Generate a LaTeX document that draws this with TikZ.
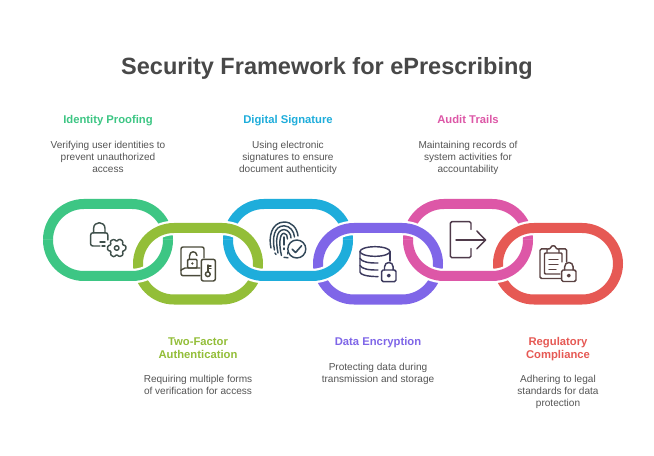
\documentclass[tikz,border=0pt]{standalone}
\usepackage{fontspec}
\setmainfont{Liberation Sans}
\definecolor{cgreen}{HTML}{3DC684}
\definecolor{clime}{HTML}{93BE38}
\definecolor{cblue}{HTML}{1EADDB}
\definecolor{cpurple}{HTML}{7F66E8}
\definecolor{cpink}{HTML}{DD57A7}
\definecolor{cred}{HTML}{E65954}
\definecolor{ctitle}{HTML}{484848}
\definecolor{cbody}{HTML}{555555}
\definecolor{igreen}{HTML}{3F504B}
\definecolor{ilime}{HTML}{4A4A3A}
\definecolor{iblue}{HTML}{33495A}
\definecolor{ipurple}{HTML}{3C3A5E}
\definecolor{ipink}{HTML}{4F3A4A}
\definecolor{ired}{HTML}{5A4242}
\tikzset{
  ringline/.style={line width=10bp,rounded corners=35.9bp},
  ringhalo/.style={line width=14.5bp,draw=white,rounded corners=35.9bp},
  headtext/.style={font=\bfseries\fontsize{11.3}{13.4}\selectfont,align=center,inner sep=0pt},
  bodytext/.style={font=\fontsize{10.1}{12}\selectfont,align=center,inner sep=0pt,text=cbody},
  icon/.style={line width=1.45bp,line cap=round,line join=round},
}
% full ring: x0 y0 x1 y1 colour
\newcommand{\fullring}[5]{%
  \draw[ringhalo] (#1,#2) rectangle (#3,#4);
  \draw[ringline,draw=#5] (#1,#2) rectangle (#3,#4);}
\newcommand{\lowerpart}[5]{%
  \draw[ringhalo] (#1,#2) -- (#1,#4) -- (#3,#4) -- (#3,#2);
  \draw[ringline,draw=#5] (#1,#2) -- (#1,#4) -- (#3,#4) -- (#3,#2);}
\begin{document}
\begin{tikzpicture}[x=1bp,y=-1bp]
\useasboundingbox (0,0) rectangle (654,456);
\fill[white] (0,0) rectangle (654,456);

\node[font=\bfseries\fontsize{23.6}{28}\selectfont,text=ctitle,inner sep=0pt] (title) at (327,69) {\strut Security Framework for ePrescribing};

% rings: upper first, lower over them, then lower parts of upper rings on top
\fullring{48}{204}{168}{276}{cgreen}
\fullring{228}{204}{348}{276}{cblue}
\fullring{408}{204}{528}{276}{cpink}
\fullring{138}{228}{258}{299.5}{clime}
\fullring{318}{228}{438}{299.5}{cpurple}
\fullring{498}{228}{618}{299.5}{cred}
\lowerpart{48}{240}{168}{276}{cgreen}
\lowerpart{228}{240}{348}{276}{cblue}
\lowerpart{408}{240}{528}{276}{cpink}

% headings and descriptions
\node[headtext,text=cgreen] (h1) at (108,121) {\strut Identity Proofing};
\node[bodytext] (b1) at (108,158) {\strut Verifying user identities to\\prevent unauthorized\\access\strut};
\node[headtext,text=cblue] (h3) at (288,121) {\strut Digital Signature};
\node[bodytext] (b3) at (288,158) {\strut Using electronic\\signatures to ensure\\document authenticity\strut};
\node[headtext,text=cpink] (h5) at (468,121) {\strut Audit Trails};
\node[bodytext] (b5) at (468,158) {\strut Maintaining records of\\system activities for\\accountability\strut};
\node[headtext,text=clime] (h2) at (198,349.5) {\strut Two-Factor\\Authentication\strut};
\node[bodytext] (b2) at (198,386) {\strut Requiring multiple forms\\of verification for access\strut};
\node[headtext,text=cpurple] (h4) at (378,343) {\strut Data Encryption};
\node[bodytext] (b4) at (378,374) {\strut Protecting data during\\transmission and storage\strut};
\node[headtext,text=cred] (h6) at (558,349.5) {\strut Regulatory\\Compliance\strut};
\node[bodytext] (b6) at (558,392) {\strut Adhering to legal\\standards for data\\protection\strut};

% icon 1: lock and gear
\begin{scope}[icon,draw=igreen]
\draw (100,246) -- (93,246) .. controls (91.5,246) and (90.7,245.2) .. (90.7,244) -- (90.7,235) .. controls (90.7,233.6) and (91.5,232.8) .. (93,232.8) -- (105.5,232.8) .. controls (107,232.8) and (107.8,233.6) .. (107.8,235) -- (107.8,240);
\draw (93.6,232.8) -- (93.6,228.5) .. controls (93.6,220.8) and (105,220.8) .. (105,228.5) -- (105,232.8);
\draw (100,241.8) -- (105,241.8);
\draw (102,246) -- (105,246);
\begin{scope}[shift={(116.7,248)}]
\draw[rounded corners=1bp] (15:9) \foreach \a in {60,120,180,240,300,360} { -- (\a-45:9) -- (\a-30:6.4) -- (\a-15:9.3) -- (\a:9.3)} -- cycle;
\draw (0,0) circle (2.3);
\end{scope}
\end{scope}

% icon 2: book with open padlock and key card
\begin{scope}[icon,draw=ilime]
\draw[rounded corners=2bp] (204,258) -- (204,247) -- (181,247) -- (181,275.7) -- (200,275.7);
\draw[rounded corners=2bp] (200,268) -- (183,268) -- (181,270.5);
\draw[rounded corners=1bp] (187.7,259.3) rectangle (197,268);
\draw (189.5,259.3) -- (189.5,256) .. controls (189.5,250.5) and (196.5,250.5) .. (197,255.5);
\fill[ilime] (192.3,263.5) circle (1.3);
\draw[rounded corners=2bp] (201.3,259.3) rectangle (215.3,281);
\draw (207.8,274.2) circle (2.4);
\draw (207.8,271.8) -- (207.8,265);
\draw (207.8,265.8) -- (211,265.8);
\draw (207.8,268.6) -- (211,268.6);
\end{scope}

% icon 3: fingerprint with check
\begin{scope}[icon,draw=iblue]
\draw (271,248) .. controls (268.5,238) and (271,222.5) .. (284,222) .. controls (292,222) and (297,228) .. (298,236);
\draw (274.5,250) .. controls (272,238) and (274,226) .. (284,225.8) .. controls (290,226) and (294,231) .. (294.5,237);
\draw (278,253) .. controls (275.5,241) and (276,230) .. (284,229.6) .. controls (288,229.6) and (291,234) .. (291,238);
\draw (281.5,255.5) .. controls (279,246) and (279,233.5) .. (284,233.3) .. controls (286.5,233.3) and (287.5,236) .. (287.5,239);
\draw (284,237) -- (284,245);
\draw (284,248) -- (284,249.5);
\draw (287.5,252) -- (287.5,254);
\draw (275,253) -- (276,254.5);
\draw (284,257.3) -- (288,257.8);
\fill[white,draw=iblue] (296.8,249) circle (9);
\draw[line width=1.6bp] (292.3,249.3) -- (295.6,252.5) -- (301.5,245.8);
\end{scope}

% icon 4: database and lock
\begin{scope}[icon,draw=ipurple]
\draw (375,251.5) ellipse (15 and 4.8);
\draw (360,251.5) -- (360,272) .. controls (360,274.5) and (366,276.5) .. (378,276.6);
\draw (390,251.5) -- (390,261);
\draw (360,258.5) .. controls (362,262) and (369,263.2) .. (378,263);
\draw (360,265.5) .. controls (362,269) and (369,270.2) .. (378,270);
\draw[rounded corners=1.5bp] (381.7,270) rectangle (396,281.7);
\draw (384.5,270) -- (384.5,267) .. controls (384.5,261) and (393.2,261) .. (393.2,267) -- (393.2,270);
\draw (388.8,275.6) circle (1.3);
\end{scope}

% icon 5: exit arrow
\begin{scope}[icon,draw=ipink]
\draw[rounded corners=1.5bp] (471,229.5) -- (471,221.7) -- (450.3,221.7) -- (450.3,257.7) -- (471,257.7) -- (471,248.5);
\draw (456,240) -- (485.5,240);
\draw (476.8,231) -- (485.5,240) -- (476.8,248.8);
\end{scope}

% icon 6: clipboard and lock
\begin{scope}[icon,draw=ired]
\draw[rounded corners=1.5bp] (561,278.5) -- (540,278.5) -- (540,248.8) -- (547,248.8);
\draw[rounded corners=1.5bp] (559,248.8) -- (566.7,248.8) -- (566.7,262);
\draw[rounded corners=1bp] (560,274) -- (544.5,274) -- (544.5,253) -- (562,253) -- (562,262);
\draw[rounded corners=1bp] (547,253) -- (547,248.8) -- (550.5,248.8) .. controls (551,245) and (555.5,245) .. (556,248.8) -- (559,248.8) -- (559,253);
\draw (549,259.5) -- (558,259.5);
\draw (549,264.5) -- (558,264.5);
\draw (549,269.5) -- (556,269.5);
\draw[rounded corners=1.5bp] (561.7,270) rectangle (576,281.5);
\draw (564.6,270) -- (564.6,267) .. controls (564.6,261) and (573.2,261) .. (573.2,267) -- (573.2,270);
\draw (568.8,275.6) circle (1.3);
\end{scope}
\end{tikzpicture}
\end{document}
